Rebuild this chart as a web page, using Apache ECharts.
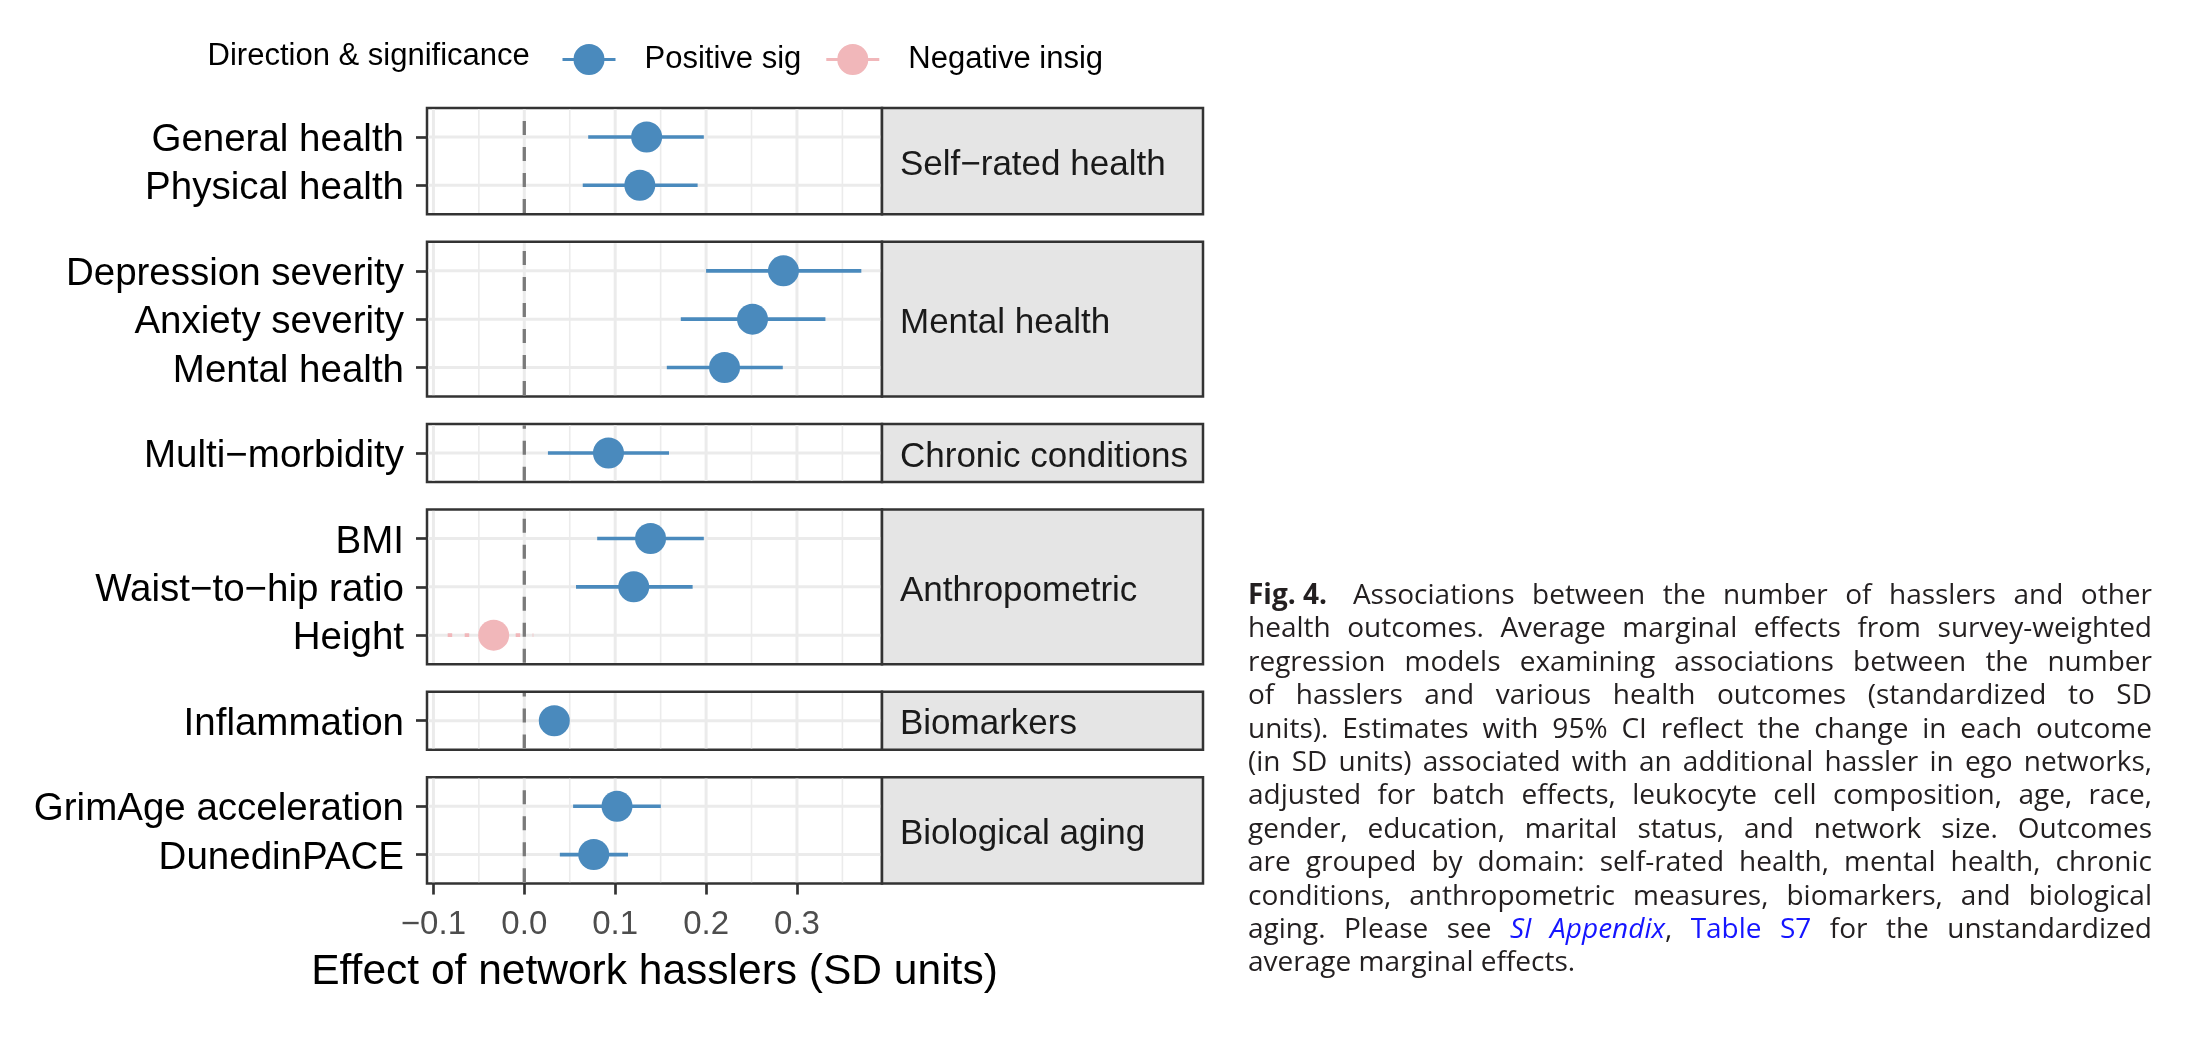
<!DOCTYPE html>
<html><head><meta charset="utf-8">
<script src="https://cdn.jsdelivr.net/npm/echarts@6/dist/echarts.min.js"></script>
<style>
html,body{margin:0;padding:0;background:#fff;}
#chart{position:absolute;left:0;top:0;width:2188px;height:1056px;}
#caption{position:absolute;left:1248px;top:577px;width:904px;font-family:'Open Sans',sans-serif;font-size:24px;line-height:33.4px;color:#231f20;}
#caption div{white-space:nowrap;text-align:justify;text-align-last:justify;}
#caption div.last{text-align-last:left;}
#caption .lnk{color:#1515ff;}
#caption .fig{display:inline-block;font-weight:bold;margin-right:0.3em;}
#probe{position:absolute;left:0;top:-200px;white-space:nowrap;font-family:'Open Sans',sans-serif;font-size:24px;visibility:hidden;}
</style></head><body>
<div id="chart"></div>
<div id="caption"></div>
<span id="probe"></span>
<script>
// ---------------- data ----------------
const outcomes = ['General health','Physical health','Depression severity','Anxiety severity','Mental health','Multi\u2212morbidity','BMI','Waist\u2212to\u2212hip ratio','Height','Inflammation','GrimAge acceleration','DunedinPACE'];
const domains = ['Self\u2212rated health','Mental health','Chronic conditions','Anthropometric','Biomarkers','Biological aging'];
const outcomeDomain = [0,0,1,1,1,2,3,3,3,4,5,5];
const estimate = [0.1346,0.1271,0.2851,0.2511,0.2203,0.0926,0.1389,0.1204,-0.0337,0.0330,0.1020,0.0764];
const ciLow    = [0.0703,0.0643,0.2000,0.1722,0.1568,0.0260,0.0802,0.0569,-0.0843,0.0200,0.0537,0.0391];
const ciHigh   = [0.1975,0.1907,0.3708,0.3313,0.2844,0.1592,0.1975,0.1852,0.0099,0.0460,0.1502,0.1141];
const significance = ['Positive sig','Positive sig','Positive sig','Positive sig','Positive sig','Positive sig','Positive sig','Positive sig','Negative insig','Positive sig','Positive sig','Positive sig'];
const sigLevels = ['Positive sig','Negative insig'];
const xTicks = [-0.1,0,0.1,0.2,0.3];
const xMinorTicks = [-0.05,0.05,0.15,0.25,0.35];
const legendTitle = 'Direction & significance';
const xTitle = 'Effect of network hasslers (SD units)';
const captionLines = [
 '<span class="fig">Fig. 4.</span> Associations between the number of hasslers and other',
 'health outcomes. Average marginal effects from survey-weighted',
 'regression models examining associations between the number',
 'of hasslers and various health outcomes (standardized to SD',
 'units). Estimates with 95% CI reflect the change in each outcome',
 '(in SD units) associated with an additional hassler in ego networks,',
 'adjusted for batch effects, leukocyte cell composition, age, race,',
 'gender, education, marital status, and network size. Outcomes',
 'are grouped by domain: self-rated health, mental health, chronic',
 'conditions, anthropometric measures, biomarkers, and biological',
 'aging. Please see <i class="lnk">SI Appendix</i>, <span class="lnk">Table S7</span> for the unstandardized',
 'average marginal effects.'
];

// ---------------- caption (justified, fixed line breaks) ----------------
(function(){
  const probe = document.getElementById('probe');
  let maxW = 0;
  captionLines.slice(0,-1).forEach(l=>{ probe.innerHTML = l; maxW = Math.max(maxW, probe.getBoundingClientRect().width); });
  const fs = Math.min(28, 24*898/maxW);
  const cap = document.getElementById('caption');
  cap.style.fontSize = fs.toFixed(2)+'px';
  cap.innerHTML = captionLines.map((l,i)=>'<div class="'+(i===captionLines.length-1?'last':'')+'">'+l+'</div>').join('');
})();

// ---------------- styles / layout ----------------
const COLORS = {'Positive sig':'#4a8abd','Negative insig':'#f1b7ba'};
const FONT = 'Liberation Sans';
const L = {top:108, unit:48.3, gap:27.6, left:427, width:455, stripWidth:321};

const dMin = Math.min(...ciLow), dMax = Math.max(...ciHigh);
const xMin = dMin - 0.05*(dMax-dMin), xMax = dMax + 0.05*(dMax-dMin);

const panels = [];
let cursor = L.top;
domains.forEach((d,i)=>{
  const idx = outcomes.map((o,k)=>k).filter(k=>outcomeDomain[k]===i);
  const n = idx.length;
  const h = (n+0.2)*L.unit;
  panels.push({top:cursor, height:h, n, idx, names: idx.map(k=>outcomes[k])});
  cursor += h + L.gap;
});

const grids=[], xAxes=[], yAxes=[], series=[], graphics=[];
panels.forEach((p,g)=>{
  const last = g===panels.length-1;
  grids.push({left:L.left, top:p.top, width:L.width, height:p.height, show:true,
    backgroundColor:'#fff', borderColor:'#333', borderWidth:2.5, containLabel:false});
  xAxes.push({type:'value', gridIndex:g, min:xMin, max:xMax, position:'bottom',
    axisLine:{show:false, onZero:false}, splitLine:{show:false},
    axisTick:{show:last, length:11, customValues:xTicks, lineStyle:{color:'#333', width:2.7}},
    axisLabel:{show:last, customValues:xTicks, margin:25, fontSize:33, color:'#4d4d4d', fontFamily:FONT,
      formatter:v=> (v<0?'\u2212':'') + Math.abs(v).toFixed(1)},
    name: last? xTitle : '', nameLocation:'middle', nameGap:67,
    nameTextStyle:{fontSize:42.5, color:'#000', fontFamily:FONT}});
  const rowVals = p.names.map((n,i)=>i);
  yAxes.push({type:'value', gridIndex:g, min:-0.6, max:p.n-0.4, inverse:true, position:'left',
    axisLine:{show:false, onZero:false}, splitLine:{show:false},
    axisTick:{show:true, length:11, customValues:rowVals, lineStyle:{color:'#333', width:2.7}},
    axisLabel:{show:true, customValues:rowVals, margin:23, fontSize:38.5, color:'#000', fontFamily:FONT,
      rich:{a:{fontSize:38.5, color:'#000', fontFamily:FONT, padding:[7,0,0,0]}},
      formatter:v=> '{a|' + (p.names[Math.round(v)] || '') + '}'}});

  const bg = [];
  xMinorTicks.forEach(v=>bg.push([v,1]));
  xTicks.forEach(v=>bg.push([v,0]));
  rowVals.forEach(v=>bg.push([v,2]));
  bg.push([0,3]);
  series.push({type:'custom', xAxisIndex:g, yAxisIndex:g, silent:true, z:1, data:bg,
    encode:{x:0},
    renderItem:(params, api)=>{
      const cs = params.coordSys; const v = api.value(0), t = api.value(1);
      const inset = 1.3;
      if (t===2){
        const y = api.coord([xMin, v])[1];
        return {type:'line', shape:{x1:cs.x+inset,y1:y,x2:cs.x+cs.width-inset,y2:y}, style:{stroke:'#ebebeb', lineWidth:3}};
      }
      const x = api.coord([v, 0])[0];
      if (t===3){
        return {type:'line', z2:5, shape:{x1:x,y1:cs.y+cs.height-inset,x2:x,y2:cs.y+inset}, style:{stroke:'#7a7a7a', lineWidth:3.3, lineDash:[14,12]}};
      }
      return {type:'line', shape:{x1:x,y1:cs.y+inset,x2:x,y2:cs.y+cs.height-inset}, style:{stroke:'#ebebeb', lineWidth: t===0?3:1.6}};
    }});

  sigLevels.forEach(s=>{
    const data = [];
    p.idx.forEach((k,i)=>{ if (significance[k]===s) data.push([ciLow[k], ciHigh[k], estimate[k], i]); });
    if (!data.length) return;
    const color = COLORS[s], dotted = s==='Negative insig';
    series.push({type:'custom', name:s, xAxisIndex:g, yAxisIndex:g, z:5, data,
      color, itemStyle:{color},
      encode:{x:[0,1,2], y:3},
      renderItem:(params, api)=>{
        const y = api.value(3);
        const a = api.coord([api.value(0), y]), b = api.coord([api.value(1), y]), c = api.coord([api.value(2), y]);
        return {type:'group', children:[
          {type:'line', shape:{x1:a[0],y1:a[1],x2:b[0],y2:b[1]}, style:{stroke:color, lineWidth:3.6, lineDash: dotted?[4.5,12.5]:null}},
          {type:'circle', shape:{cx:c[0],cy:c[1],r:15.5}, style:{fill:color}}
        ]};
      }});
  });

  graphics.push({type:'rect', shape:{x:L.left+L.width, y:p.top, width:L.stripWidth, height:p.height},
    style:{fill:'#e5e5e5', stroke:'#333', lineWidth:2.5}, z:10});
  graphics.push({type:'text', x:L.left+L.width+18, y:p.top+p.height/2+4, z:11,
    style:{text:domains[g], fontSize:35, fontFamily:FONT, fill:'#1a1a1a', verticalAlign:'middle', align:'left'}});
});

graphics.push({type:'text', x:207.6, y:56.5, z:11,
  style:{text:legendTitle, fontSize:31, fontFamily:FONT, fill:'#000', verticalAlign:'middle', align:'left'}});

const legendIcon = 'path://M0,14 L53,14 L53,17 L0,17 Z M42,15.5 A15.5,15.5 0 1 1 11,15.5 A15.5,15.5 0 1 1 42,15.5 Z';

const chart = echarts.init(document.getElementById('chart'));
chart.setOption({
  animation:false,
  textStyle:{fontFamily:FONT},
  grid:grids, xAxis:xAxes, yAxis:yAxes, series,
  legend:{data:sigLevels.map(s=>({name:s, icon:legendIcon, itemStyle:{color:COLORS[s]}})),
    left:557.5, top:39, itemWidth:53, itemHeight:31, itemGap:25, selectedMode:false,
    textStyle:{fontSize:31, color:'#000', fontFamily:FONT, padding:[0,0,0,24]}},
  graphic:graphics
});
</script>
</body></html>
